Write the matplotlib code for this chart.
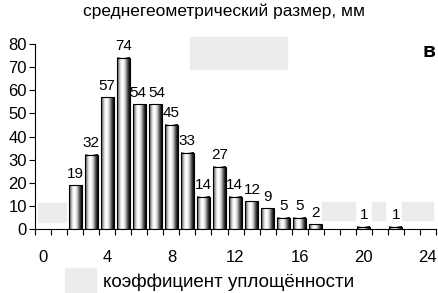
import numpy as np
import matplotlib.pyplot as plt
from matplotlib.patches import Rectangle

plt.rcParams['font.family'] = ['Liberation Sans', 'DejaVu Sans']

# bin centres (mm) and counts
sizes = [2, 3, 4, 5, 6, 7, 8, 9, 10, 11, 12, 13, 14, 15, 16, 17, 20, 22]
counts = [19, 32, 57, 74, 54, 54, 45, 33, 14, 27, 14, 12, 9, 5, 5, 2, 1, 1]
xtick_labels = [0, 4, 8, 12, 16, 20, 24]
yticks = [0, 10, 20, 30, 40, 50, 60, 70, 80]

fig = plt.figure(figsize=(4.39, 2.93), dpi=100)
ax = fig.add_axes([0.080, 0.218, 0.913, 0.632])

# cylinder-like shading for the bars
grad = np.array([0.35, 0.6, 0.85, 0.97, 1.0, 0.92, 0.75, 0.5, 0.25, 0.08])
grad = np.tile(grad, (2, 1))
w = 0.8
# small sideways nudges so neighbouring labels don't run into each other
nudge = {6: -0.12, 7: 0.12, 12: -0.05, 13: 0.05}
for x, c in zip(sizes, counts):
    ax.imshow(grad, cmap='gray', vmin=0, vmax=1, aspect='auto',
              extent=(x - w / 2, x + w / 2, 0, c), interpolation='bilinear', zorder=2)
    ax.add_patch(Rectangle((x - w / 2, 0), w, c, fill=False, edgecolor='black', lw=0.8, zorder=3))
    ax.text(x + nudge.get(x, 0), c + 2, str(c), ha='center', va='bottom', fontsize=11)

ax.set_xlim(-0.5, 24.5)
ax.set_ylim(0, 80)
ax.set_xticks(np.arange(-0.5, 25, 1))
ax.set_xticklabels([])
ax.tick_params(axis='x', length=4, width=0.8)
for v in xtick_labels:
    ax.text(v, -9, str(v), ha='center', va='top', fontsize=12)
ax.set_yticks(yticks)
ax.tick_params(axis='y', length=4, width=0.8, labelsize=12, pad=2)
for s in ['top', 'right']:
    ax.spines[s].set_visible(False)

fig.text(0.51, 0.962, 'среднегеометрический размер, мм', ha='center', va='center', fontsize=12.5)
fig.text(0.52, 0.037, 'коэффициент уплощённости', ha='center', va='center', fontsize=13.5)
fig.text(0.978, 0.825, 'в', ha='center', va='center', fontsize=15, fontweight='bold')

# light grey patches seen on the original
boxes = [(190, 37, 97, 32), (38, 203, 28, 19), (322, 202, 33, 18),
         (372, 202, 13, 18), (402, 202, 31, 18), (65, 268, 31, 25)]
for bx, by, bw, bh in boxes:
    fig.patches.append(Rectangle((bx / 439, 1 - (by + bh) / 293), bw / 439, bh / 293,
                                 transform=fig.transFigure, color='#ececec', zorder=0))

fig.savefig('out.png', dpi=100)
